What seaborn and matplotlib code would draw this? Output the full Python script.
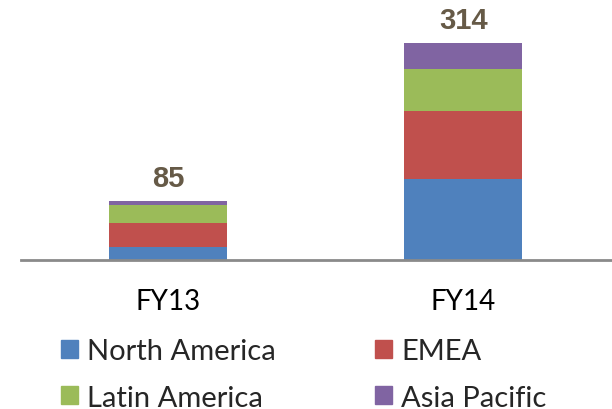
import numpy as np
import pandas as pd
import seaborn as sns
import matplotlib.pyplot as plt
from matplotlib.patches import Patch

years = ['FY13', 'FY14']
regions = ['North America', 'EMEA', 'Latin America', 'Asia Pacific']
north_america = [19, 118]
emea = [35, 98]
latin_america = [26, 60]
asia_pacific = [5, 38]
totals = [85, 314]

colors = ['#4F81BD', '#C0504D', '#9BBB59', '#8064A2']

sns.set_theme(style='white')
plt.rcParams['font.family'] = ['Lato', 'DejaVu Sans']

stack = np.cumsum(np.array([north_america, emea, latin_america, asia_pacific]), axis=0)

fig = plt.figure(figsize=(6.12, 4.10), dpi=100)
ax = fig.add_axes([0.0343, 0.3634, 0.964, 0.6366])

# draw cumulative totals from the top down so each layer covers the one above
for i in range(len(regions) - 1, -1, -1):
    df = pd.DataFrame({'year': years, 'value': stack[i]})
    sns.barplot(data=df, x='year', y='value', color=colors[i], width=0.4,
                saturation=1, ax=ax, linewidth=0)

for x, t in enumerate(totals):
    ax.annotate(str(t), (x, stack[-1][x]), xytext=(0, 11), textcoords='offset points',
                ha='center', va='baseline', fontsize=21, fontweight='bold',
                color='#665A47', family='Liberation Sans')

ax.set_xlim(-0.5, 1.5)
ax.set_ylim(0, 378)
for s in ['top', 'left', 'right']:
    ax.spines[s].set_visible(False)
ax.spines['bottom'].set_color('#8A8A8A')
ax.spines['bottom'].set_linewidth(2)
ax.set_yticks([])
ax.set_xlabel('')
ax.set_ylabel('')
ax.tick_params(axis='x', length=0, pad=20.5, labelsize=20, labelcolor='black')

handles = [Patch(color=colors[0]), Patch(color=colors[2]), Patch(color=colors[1]), Patch(color=colors[3])]
labels = [regions[0], regions[2], regions[1], regions[3]]
fig.legend(handles, labels, ncol=2, loc='upper left', bbox_to_anchor=(0.0997, 0.172),
           frameon=False, fontsize=21, handlelength=0.58, handleheight=0.58,
           handletextpad=0.31, columnspacing=3.42, labelspacing=0.69, borderaxespad=0, borderpad=0)

fig.savefig('out.png', dpi=100)
